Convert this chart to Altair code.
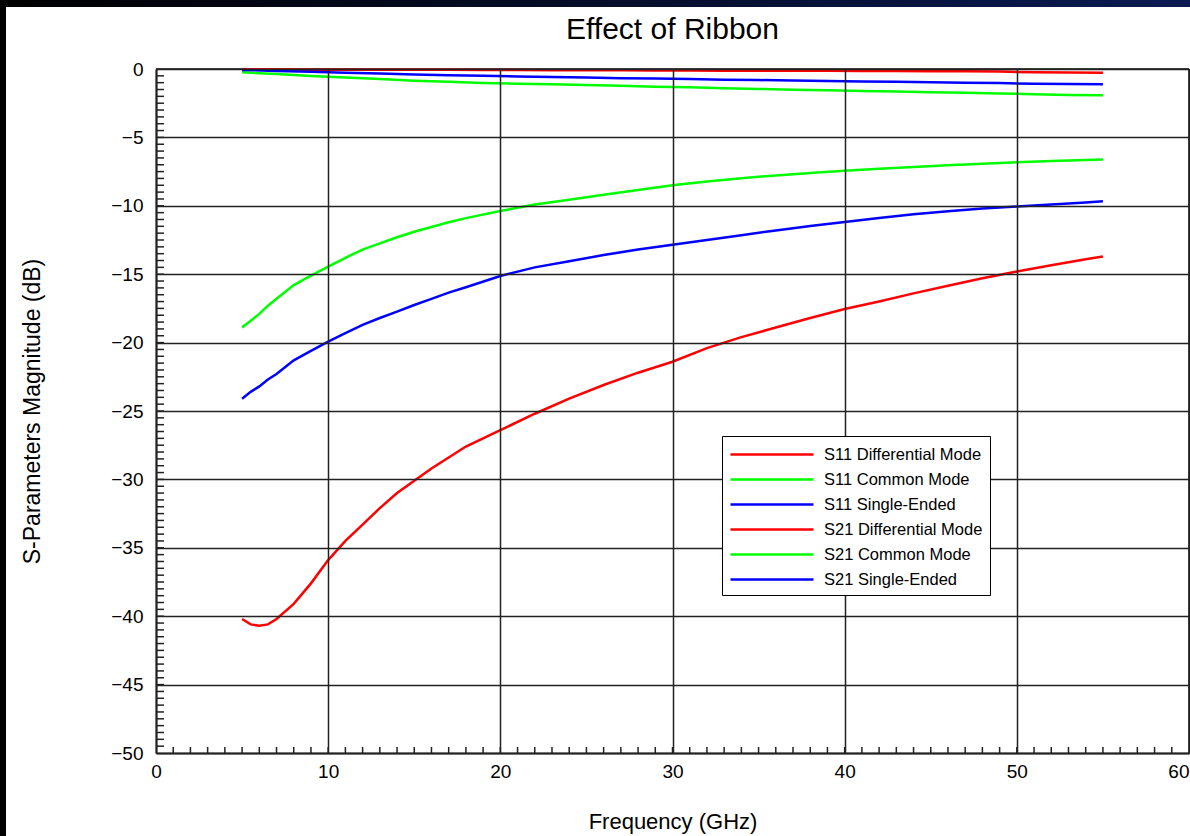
import altair as alt
import pandas as pd

# ---------------- data ----------------
series_names = ["S11 Differential Mode", "S11 Common Mode", "S11 Single-Ended",
                "S21 Differential Mode", "S21 Common Mode", "S21 Single-Ended"]
series_colors = ["#ff0000", "#00ff00", "#0000ff", "#ff0000", "#00ff00", "#0000ff"]

freq_s11 = [5, 7, 9, 11, 13, 15, 17, 19, 21, 23, 25, 27, 29, 31, 33, 35, 37, 39,
            41, 43, 45, 47, 49, 51, 53, 55]
s11_diff = [-0.04, -0.04, -0.05, -0.05, -0.05, -0.06, -0.06, -0.07, -0.08, -0.09,
            -0.10, -0.10, -0.11, -0.11, -0.12, -0.12, -0.12, -0.13, -0.14, -0.15,
            -0.16, -0.17, -0.19, -0.24, -0.26, -0.28]
s11_cm = [-0.24, -0.37, -0.52, -0.62, -0.74, -0.85, -0.94, -1.02, -1.07, -1.12,
          -1.17, -1.23, -1.29, -1.33, -1.40, -1.46, -1.51, -1.56, -1.61, -1.65,
          -1.70, -1.74, -1.79, -1.84, -1.90, -1.92]
s11_se = [-0.07, -0.14, -0.21, -0.27, -0.32, -0.40, -0.46, -0.50, -0.55, -0.59,
          -0.63, -0.67, -0.70, -0.73, -0.78, -0.81, -0.84, -0.88, -0.91, -0.94,
          -0.97, -1.00, -1.03, -1.08, -1.10, -1.12]

freq_s21 = [5, 5.5, 6, 6.5, 7, 8, 9, 10, 11, 12, 13, 14, 15, 16, 17, 18, 20, 22, 24,
            26, 28, 30, 32, 34, 36, 38, 40, 42, 44, 46, 48, 50, 52, 54, 55]
s21_diff = [-40.2, -40.6, -40.7, -40.6, -40.2, -39.1, -37.6, -35.9, -34.5, -33.3,
            -32.1, -31.0, -30.1, -29.2, -28.4, -27.6, -26.4, -25.2, -24.1, -23.1,
            -22.2, -21.4, -20.4, -19.6, -18.9, -18.2, -17.55, -17.0, -16.4, -15.85,
            -15.3, -14.8, -14.35, -13.9, -13.7]
s21_cm = [-18.9, -18.4, -17.9, -17.3, -16.8, -15.8, -15.1, -14.45, -13.8, -13.2,
          -12.75, -12.3, -11.9, -11.55, -11.2, -10.9, -10.38, -9.9, -9.55, -9.2,
          -8.85, -8.5, -8.22, -7.98, -7.78, -7.6, -7.44, -7.3, -7.16, -7.03,
          -6.92, -6.81, -6.72, -6.65, -6.62]
s21_se = [-24.1, -23.6, -23.2, -22.7, -22.3, -21.3, -20.6, -19.93, -19.3, -18.7,
          -18.2, -17.74, -17.25, -16.8, -16.35, -15.95, -15.13, -14.5, -14.05, -13.6,
          -13.2, -12.85, -12.5, -12.15, -11.8, -11.48, -11.18, -10.9, -10.62, -10.4,
          -10.2, -10.05, -9.9, -9.75, -9.66]

x_major = [0, 10, 20, 30, 40, 50, 60]
y_major = [-50, -45, -40, -35, -30, -25, -20, -15, -10, -5, 0]
x_minor = list(range(1, 60))
y_minor = [v / 2 for v in range(-99, 0)]

# ---------------- tables ----------------
rows = []
for name, fr, vals in [(series_names[0], freq_s11, s11_diff),
                       (series_names[1], freq_s11, s11_cm),
                       (series_names[2], freq_s11, s11_se),
                       (series_names[3], freq_s21, s21_diff),
                       (series_names[4], freq_s21, s21_cm),
                       (series_names[5], freq_s21, s21_se)]:
    for f, v in zip(fr, vals):
        rows.append({"series": name, "f": f, "db": v})
df = pd.DataFrame(rows)

FONT = "Liberation Sans, Arial, sans-serif"
GRID = "#222222"

xs = alt.Scale(domain=[0, 60], nice=False, zero=False)
ys = alt.Scale(domain=[-50, 0], nice=False, zero=False)

xax = alt.Axis(values=x_major, format="d", grid=True, gridColor=GRID, gridWidth=1.5,
               domainColor=GRID, domainWidth=2, ticks=False,
               labelFont=FONT, labelFontSize=19, labelColor="black", labelPadding=9,
               labelFlush=False,
               labelAlign={"condition": {"test": "datum.value === 60", "value": "right"},
                           "value": "center"},
               title="Frequency (GHz)", titleFont=FONT, titleFontSize=22,
               titleFontWeight="normal", titleColor="black", titleBaseline="alphabetic",
               titleY=75, zindex=1)
yax = alt.Axis(values=y_major, format="d", grid=True, gridColor=GRID, gridWidth=1.5,
               domainColor=GRID, domainWidth=2, ticks=False,
               labelFont=FONT, labelFontSize=19, labelColor="black", labelPadding=13,
               labelFlush=False,
               title="S-Parameters Magnitude (dB)", titleFont=FONT, titleFontSize=23,
               titleFontWeight="normal", titleColor="black", titleBaseline="alphabetic",
               titleX=-117, titleY=342, titleAlign="center", zindex=1)

X = alt.X("f:Q", scale=xs, axis=xax)
Y = alt.Y("db:Q", scale=ys, axis=yax)

one = alt.Data(values=[{}])
bg = alt.Chart(one).mark_rect(
    fill=alt.LinearGradient(gradient="linear",
                            stops=[alt.GradientStop(color="#000000", offset=0),
                                   alt.GradientStop(color="#0b1a52", offset=1)],
                            x1=0, x2=1, y1=0, y2=0)
).encode(x=alt.value(-156), x2=alt.value(1034), y=alt.value(-69), y2=alt.value(767))
white = alt.Chart(one).mark_rect(fill="white").encode(
    x=alt.value(-150), x2=alt.value(1034), y=alt.value(-62), y2=alt.value(767))

frame_top = alt.Chart(pd.DataFrame({"db": [0]})).mark_rule(
    color="#444444", strokeWidth=2).encode(y=Y)
frame_right = alt.Chart(pd.DataFrame({"f": [60]})).mark_rule(
    color="#444444", strokeWidth=2).encode(x=X)

xticks = alt.Chart(pd.DataFrame({"f": x_minor, "db": [-50] * len(x_minor)})).mark_tick(
    orient="vertical", size=12, thickness=1.5, color=GRID, clip=True, opacity=1
).encode(x=X, y=Y)
yticks = alt.Chart(pd.DataFrame({"f": [0] * len(y_minor), "db": y_minor})).mark_tick(
    orient="horizontal", size=16, thickness=1.5, color=GRID, clip=True, opacity=1
).encode(x=X, y=Y)

lines = alt.Chart(df).mark_line(strokeWidth=2.5).encode(
    x=X, y=Y,
    color=alt.Color("series:N",
                    scale=alt.Scale(domain=series_names, range=series_colors),
                    sort=series_names,
                    legend=alt.Legend(title=None, orient="none", legendX=566, legendY=367,
                                      symbolType="M-1,0H7.3", symbolSize=400,
                                      symbolStrokeWidth=2.5, labelOffset=72,
                                      rowPadding=5, labelFont=FONT, labelFontSize=16.5,
                                      labelColor="black", labelLimit=0,
                                      strokeColor="black", fillColor="white",
                                      padding=7, zindex=3)),
)

chart = alt.layer(bg, white, frame_top, frame_right, xticks, yticks, lines).properties(
    width=1033, height=684,
    autosize=alt.AutoSizeParams(type="none"),
    padding={"left": 156, "top": 69, "right": 1, "bottom": 83},
    title=alt.TitleParams(text="Effect of Ribbon", font=FONT, fontSize=30,
                          fontWeight="normal", color="black", anchor="middle",
                          frame="group", baseline="alphabetic", offset=20, dy=89),
).configure_view(stroke="transparent")

chart.save("out.html", embed_options={"renderer": "svg", "actions": False})
